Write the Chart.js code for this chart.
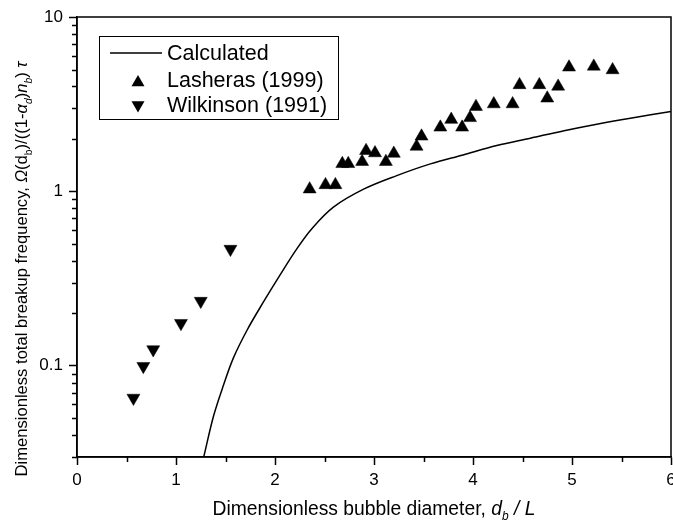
<!DOCTYPE html>
<html>
<head>
<meta charset="utf-8">
<script src="https://cdn.jsdelivr.net/npm/chart.js@4.4.0/dist/chart.umd.min.js"></script>
<style>
  html, body { margin: 0; padding: 0; background: #fff; }
  canvas { display: block; }
</style>
</head>
<body>
<canvas id="chart" width="673" height="523"></canvas>
<script>
// ── data ─────────────────────────────────────────────────
// Calculated curve
const calcX = [1.28, 1.38, 1.48, 1.58, 1.72, 1.885, 2.05, 2.22, 2.37, 2.59, 2.9, 3.23, 3.57, 3.9, 4.24, 4.58, 4.92, 5.25, 5.59, 6.0];
const calcY = [0.030, 0.0517, 0.0775, 0.111, 0.161, 0.233, 0.331, 0.468, 0.609, 0.812, 1.033, 1.232, 1.438, 1.619, 1.832, 2.02, 2.23, 2.43, 2.63, 2.87];

// Lasheras (1999)
const lasX = [2.35, 2.51, 2.61, 2.68, 2.74, 2.88, 2.92, 3.01, 3.12, 3.2, 3.43, 3.48, 3.67, 3.78, 3.89, 3.97, 4.03, 4.21, 4.4, 4.47, 4.67, 4.75, 4.86, 4.97, 5.22, 5.41];
const lasY = [1.03, 1.09, 1.09, 1.44, 1.44, 1.48, 1.71, 1.66, 1.48, 1.65, 1.81, 2.07, 2.33, 2.58, 2.33, 2.64, 3.06, 3.17, 3.17, 4.08, 4.08, 3.42, 4.0, 5.15, 5.21, 4.97];

// Wilkinson (1991)
const wilX = [0.57, 0.67, 0.77, 1.05, 1.25, 1.55];
const wilY = [0.0654, 0.0995, 0.124, 0.1755, 0.235, 0.467];

// ticks
const xMajorTicks = [0, 1, 2, 3, 4, 5, 6];
const xMinorTicks = [0.5, 1.5, 2.5, 3.5, 4.5, 5.5];
const yMajorTicks = [0.1, 1, 10];
const yMinorTicks = [0.03, 0.04, 0.05, 0.06, 0.07, 0.08, 0.09,
                     0.2, 0.3, 0.4, 0.5, 0.6, 0.7, 0.8, 0.9,
                     2, 3, 4, 5, 6, 7, 8, 9];

const FONT = '"Liberation Sans", Arial, sans-serif';

function pts(xs, ys) {
    return xs.map((x, i) => ({ x: x, y: ys[i] }));
}

// draw a run of text pieces (normal / italic / subscript)
function measureRuns(ctx, runs, size) {
    let w = 0;
    runs.forEach(r => {
        const s = r.sub ? size * 0.62 : size;
        ctx.font = (r.it ? 'italic ' : '') + s + 'px ' + FONT;
        w += ctx.measureText(r.t).width;
    });
    return w;
}

function drawRuns(ctx, runs, x, y, size) {
    runs.forEach(r => {
        const s = r.sub ? size * 0.62 : size;
        ctx.font = (r.it ? 'italic ' : '') + s + 'px ' + FONT;
        ctx.fillText(r.t, x, r.sub ? y + size * 0.28 : y);
        x += ctx.measureText(r.t).width;
    });
}

const xTitle = [
    { t: 'Dimensionless bubble diameter, ' },
    { t: 'd', it: true },
    { t: 'b', it: true, sub: true },
    { t: ' / L', it: true }
];

const yTitle = [
    { t: 'Dimensionless total breakup frequency, ' },
    { t: 'Ω', it: true },
    { t: '(d' },
    { t: 'b', sub: true },
    { t: ')/((1-' },
    { t: 'α', it: true },
    { t: 'd', it: true, sub: true },
    { t: ')' },
    { t: 'n', it: true },
    { t: 'b', it: true, sub: true },
    { t: ') ' },
    { t: 'τ', it: true }
];

const whiteBg = {
    id: 'whiteBg',
    beforeDraw(chart) {
        const ctx = chart.ctx;
        ctx.save();
        ctx.fillStyle = '#fff';
        ctx.fillRect(0, 0, chart.width, chart.height);
        ctx.restore();
    }
};

const frameAndExtras = {
    id: 'frameAndExtras',
    afterDraw(chart) {
        const ctx = chart.ctx;
        const a = chart.chartArea;
        const xs = chart.scales.x, ys = chart.scales.y;
        ctx.save();
        ctx.strokeStyle = '#000';
        ctx.lineWidth = 1.5;
        ctx.strokeRect(a.left, a.top, a.right - a.left, a.bottom - a.top);

        // minor ticks
        ctx.beginPath();
        xMinorTicks.forEach(v => {
            const px = Math.round(xs.getPixelForValue(v)) + 0.5;
            ctx.moveTo(px, a.bottom);
            ctx.lineTo(px, a.bottom + 5);
        });
        yMinorTicks.forEach(v => {
            const py = Math.round(ys.getPixelForValue(v)) + 0.5;
            ctx.moveTo(a.left, py);
            ctx.lineTo(a.left - 5, py);
        });
        ctx.stroke();

        // axis titles
        ctx.fillStyle = '#000';
        ctx.textBaseline = 'alphabetic';
        ctx.textAlign = 'left';
        const xs1 = 19.3;
        const xw = measureRuns(ctx, xTitle, xs1);
        drawRuns(ctx, xTitle, (a.left + a.right) / 2 - xw / 2, 515, xs1);

        const ys1 = 16.6;
        const yw = measureRuns(ctx, yTitle, ys1);
        ctx.translate(27, 269);
        ctx.rotate(-Math.PI / 2);
        drawRuns(ctx, yTitle, -yw / 2, 0, ys1);
        ctx.restore();

        // legend
        ctx.save();
        ctx.strokeStyle = '#000';
        ctx.lineWidth = 1;
        ctx.strokeRect(99.5, 36.5, 239, 83);
        ctx.lineWidth = 1.5;
        ctx.beginPath();
        ctx.moveTo(110, 53);
        ctx.lineTo(162, 53);
        ctx.stroke();
        ctx.fillStyle = '#000';
        Chart.helpers.drawPoint(ctx, { pointStyle: 'triangle', radius: 7.5, rotation: 0, borderWidth: 0 }, 138, 82.5);
        Chart.helpers.drawPoint(ctx, { pointStyle: 'triangle', radius: 7.5, rotation: 180, borderWidth: 0 }, 138, 105);
        ctx.font = '21.5px ' + FONT;
        ctx.textBaseline = 'middle';
        ctx.fillText('Calculated', 167, 54);
        ctx.fillText('Lasheras (1999)', 167, 81);
        ctx.fillText('Wilkinson (1991)', 167, 106);
        ctx.restore();
    }
};

new Chart(document.getElementById('chart'), {
    type: 'scatter',
    data: {
        datasets: [
            {
                label: 'Calculated',
                data: pts(calcX, calcY),
                showLine: true,
                borderColor: '#000',
                borderWidth: 1.5,
                pointRadius: 0,
                tension: 0.35
            },
            {
                label: 'Lasheras (1999)',
                data: pts(lasX, lasY),
                pointStyle: 'triangle',
                pointRadius: 7.5,
                pointRotation: 0,
                backgroundColor: '#000',
                borderColor: '#000',
                borderWidth: 0.5
            },
            {
                label: 'Wilkinson (1991)',
                data: pts(wilX, wilY),
                pointStyle: 'triangle',
                pointRadius: 7.5,
                pointRotation: 180,
                backgroundColor: '#000',
                borderColor: '#000',
                borderWidth: 0.5
            }
        ]
    },
    options: {
        responsive: false,
        animation: false,
        layout: { autoPadding: false, padding: { top: 17, right: 2, left: 0, bottom: 0 } },
        plugins: {
            legend: { display: false },
            tooltip: { enabled: false }
        },
        scales: {
            x: {
                type: 'linear',
                min: 0,
                max: 6,
                afterBuildTicks: s => { s.ticks = xMajorTicks.map(v => ({ value: v })); },
                afterFit: s => { s.height = 66; s.paddingLeft = 0; s.paddingRight = 0; },
                ticks: {
                    color: '#000',
                    font: { family: FONT, size: 17 },
                    padding: 5,
                    autoSkip: false,
                    maxRotation: 0,
                    callback: v => String(v)
                },
                grid: { drawOnChartArea: false, color: '#000', tickLength: 8, tickWidth: 1.5 },
                border: { display: true, color: '#000', width: 1.5 }
            },
            y: {
                type: 'logarithmic',
                min: 0.03,
                max: 10,
                afterBuildTicks: s => { s.ticks = yMajorTicks.map(v => ({ value: v })); },
                afterFit: s => { s.width = 77; s.paddingTop = 0; s.paddingBottom = 0; },
                ticks: {
                    color: '#000',
                    font: { family: FONT, size: 17 },
                    padding: 6,
                    autoSkip: false,
                    callback: v => String(v)
                },
                grid: { drawOnChartArea: false, color: '#000', tickLength: 8, tickWidth: 1.5 },
                border: { display: true, color: '#000', width: 1.5 }
            }
        }
    },
    plugins: [whiteBg, frameAndExtras]
});
</script>
</body>
</html>
